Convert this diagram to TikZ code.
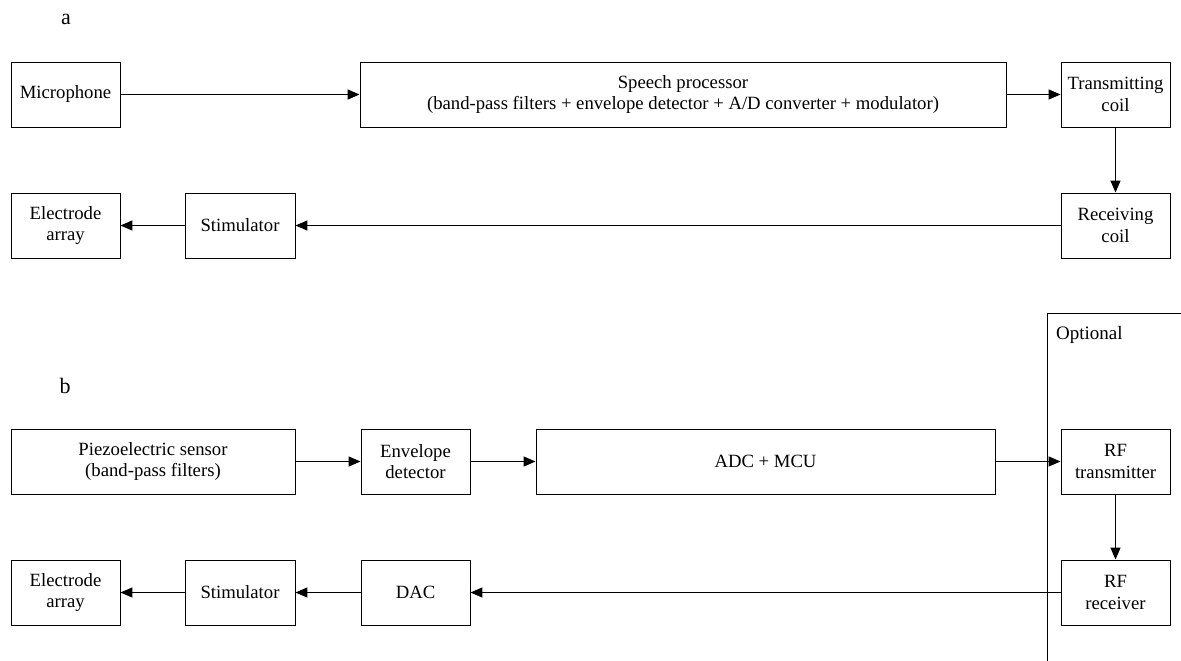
\documentclass[tikz,border=0pt]{standalone}
\usepackage{fontspec}
\setmainfont{Liberation Serif}
\usetikzlibrary{arrows.meta}
\begin{document}
\begin{tikzpicture}[x=1pt,y=-1pt,
  box/.style={draw, line width=0.9pt, minimum height=65pt, inner sep=0pt, align=center,
    font=\fontsize{18.7}{21.5}\selectfont},
  conn/.style={line width=1.3pt, -{Triangle[length=12pt,width=10pt]}},
  lbl/.style={font=\fontsize{22}{24}\selectfont, inner sep=0pt}]
\useasboundingbox (0,0) rectangle (1181,661);
% panel a
\node[lbl] (la) at (66,19) {a};
\node[box, minimum width=109pt] (mic) at (65.5,94.5) {Microphone};
\node[box, minimum width=646pt] (sp) at (683,94.5) {Speech processor\\(band-pass filters + envelope detector + A/D converter + modulator)};
\node[box, minimum width=109pt] (tc) at (1115.5,94.5) {Transmitting\\coil};
\node[box, minimum width=109pt] (rc) at (1115.5,225.5) {Receiving\\coil};
\node[box, minimum width=110pt] (st1) at (240,225.5) {Stimulator};
\node[box, minimum width=109pt] (ea1) at (65.5,225.5) {Electrode\\array};
\draw[conn] (mic) -- (sp);
\draw[conn] (sp) -- (tc);
\draw[conn] (tc) -- (rc);
\draw[conn] (rc) -- (st1);
\draw[conn] (st1) -- (ea1);
% optional region
\coordinate (o1) at (1047.5,661);
\coordinate (o2) at (1047.5,313);
\coordinate (o3) at (1181,313);
\draw[line width=1pt] (o1) -- (o2) -- (o3);
\node[anchor=west, inner sep=0pt, font=\fontsize{19}{21}\selectfont] (opt) at (1056,335) {Optional};
% panel b
\node[lbl] (lb) at (65,386) {b};
\node[box, minimum width=284pt] (pz) at (153,461.5) {Piezoelectric sensor\\(band-pass filters)};
\node[box, minimum width=109pt] (env) at (415.5,461.5) {Envelope\\detector};
\node[box, minimum width=459pt] (adc) at (765.5,461.5) {ADC + MCU};
\node[box, minimum width=109pt] (rft) at (1115.5,461.5) {RF\\transmitter};
\node[box, minimum width=109pt] (rfr) at (1115.5,592.5) {RF\\receiver};
\node[box, minimum width=109pt] (dac) at (415.5,592.5) {DAC};
\node[box, minimum width=110pt] (st2) at (240,592.5) {Stimulator};
\node[box, minimum width=109pt] (ea2) at (65.5,592.5) {Electrode\\array};
\draw[conn] (pz) -- (env);
\draw[conn] (env) -- (adc);
\draw[conn] (adc) -- (rft);
\draw[conn] (rft) -- (rfr);
\draw[conn] (rfr) -- (dac);
\draw[conn] (dac) -- (st2);
\draw[conn] (st2) -- (ea2);
\end{tikzpicture}
\end{document}
